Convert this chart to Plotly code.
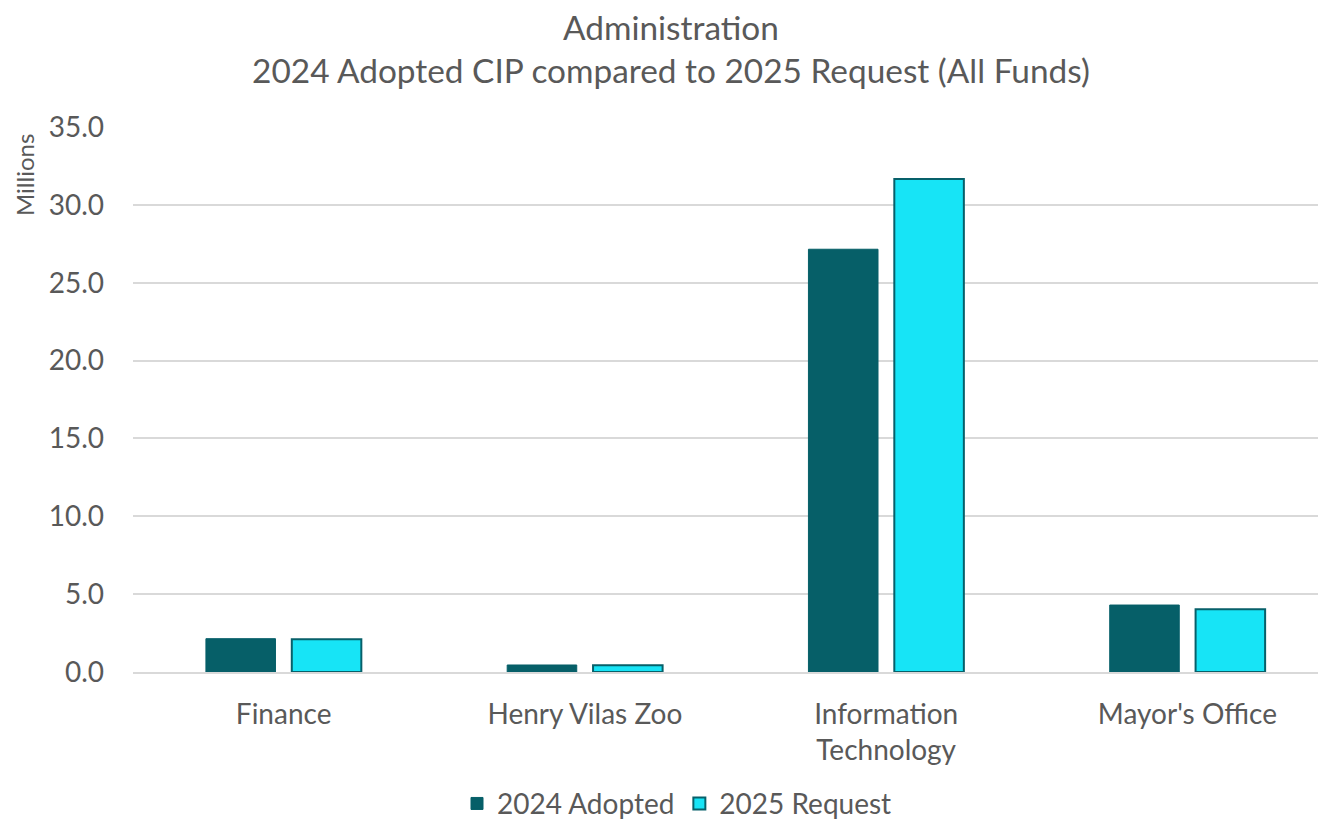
import plotly.graph_objects as go

categories = ["Finance", "Henry Vilas Zoo", "Information<br>Technology", "Mayor's Office"]
adopted_2024 = [2.14, 0.45, 27.15, 4.30]
request_2025 = [2.10, 0.43, 31.66, 4.03]
y_ticks = [0, 5, 10, 15, 20, 25, 30, 35]

FONT = "Lato, Carlito, Calibri, sans-serif"
GRAY = "#595959"

W, H = 1318, 817

fig = go.Figure()
fig.add_trace(go.Bar(
    x=categories, y=adopted_2024, name="2024 Adopted",
    marker=dict(color="#065F68", line=dict(color="#065F68", width=1)),
))
fig.add_trace(go.Bar(
    x=categories, y=request_2025, name="2025 Request",
    marker=dict(color="#17E4F6", line=dict(color="#07606A", width=2)),
))

fig.update_layout(
    width=W, height=H,
    paper_bgcolor="white", plot_bgcolor="white",
    margin=dict(l=125, r=0, t=119, b=153, autoexpand=False),
    barmode="group", bargap=0.43, bargroupgap=0.19,
    font=dict(family=FONT, color=GRAY, size=28),
    title=dict(
        text="Administration<br>2024 Adopted CIP compared to 2025 Request (All Funds)",
        x=0.503, xref="container", xanchor="center",
        y=0.961, yref="container", yanchor="middle",
        font=dict(family=FONT, size=33.4, color=GRAY),
    ),
    showlegend=True,
    legend=dict(orientation="h", x=0.456, xanchor="center",
                y=0.026, yref="container", yanchor="middle",
                font=dict(size=28, color=GRAY), itemwidth=30, traceorder="normal"),
    xaxis=dict(showgrid=False, showline=True, linecolor="#D9D9D9", linewidth=2,
               ticks="", range=[-0.5, 3.46], automargin=False,
               ticklabelstandoff=16,
               tickfont=dict(size=28, color=GRAY)),
    yaxis=dict(range=[0, 35], tickvals=y_ticks, tickformat=".1f",
               showgrid=True, gridcolor="#D9D9D9", gridwidth=2,
               zeroline=False, showline=False, ticks="", automargin=False,
               ticklabelstandoff=28,
               tickfont=dict(size=28, color=GRAY)),
    annotations=[dict(text="Millions", textangle=-90, x=-0.0905, xref="paper",
                      y=0.912, yref="paper", xanchor="center", yanchor="middle",
                      showarrow=False, font=dict(size=24, color=GRAY))],
)
fig.write_html("out.html")
